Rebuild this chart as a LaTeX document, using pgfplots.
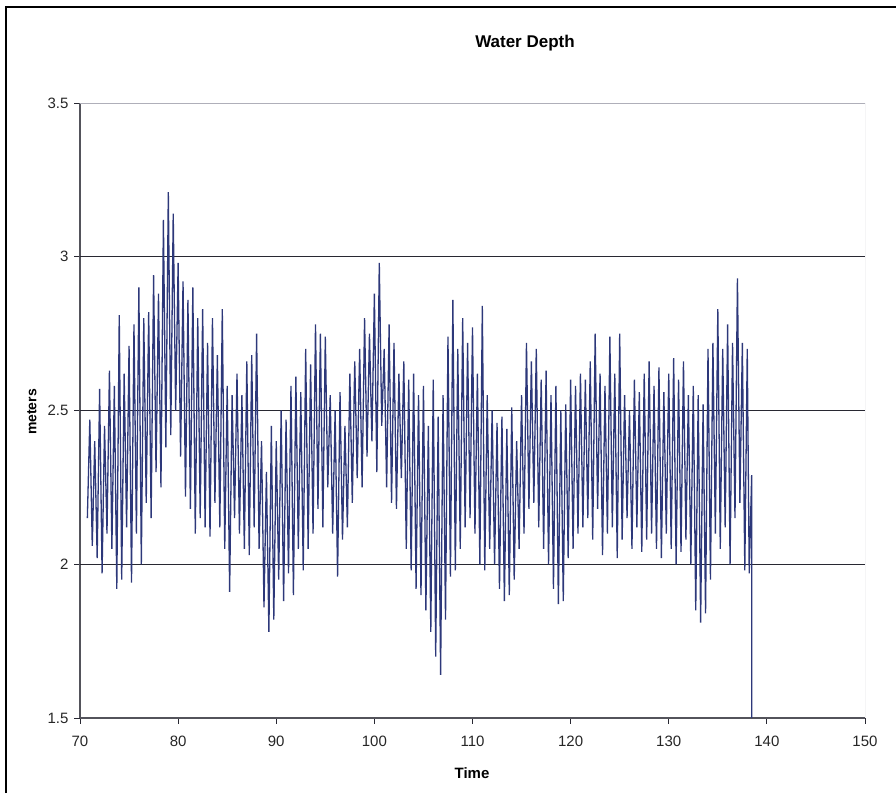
\documentclass[border=0pt]{standalone}
\usepackage{pgfplots}
\pgfplotsset{compat=1.18}
\usepackage{fontspec}
\setmainfont{Liberation Sans}
\definecolor{navy}{RGB}{45,56,122}
\definecolor{gridc}{RGB}{40,40,50}
\definecolor{boxc}{RGB}{175,175,185}
\begin{document}
\begin{tikzpicture}[x=1pt,y=1pt]
\path[use as bounding box] (0,0) rectangle (896,793);
\draw[black,line width=2.2pt] (6,0) -- (6,786) -- (896,786);
\begin{axis}[
  at={(80pt,75pt)}, anchor=south west,
  width=785pt, height=615pt, scale only axis,
  xmin=70, xmax=150, ymin=1.5, ymax=3.5,
  xtick={70,80,...,150}, ytick={1.5,2,2.5,3,3.5},
  yticklabels={1.5,2,2.5,3,3.5},
  extra y ticks={2,2.5,3}, extra y tick labels={},
  extra y tick style={grid=major, major tick length=0pt},
  axis x line*=bottom, axis y line*=left,
  axis line style={-, line width=1.2pt, color=gridc!80},
  tick align=outside, major tick length=6pt,
  tick style={line width=0.8pt, color=gridc},
  grid style={line width=1.3pt, color=gridc},
  /pgf/number format/assume math mode=true,
  ticklabel style={font=\fontsize{15}{17}\selectfont, color=black!85},
  xticklabel style={yshift=-8pt},
  yticklabel style={xshift=-2pt},
  clip=true,
]
\addplot[navy, line width=1.3pt, mark=none] table[x=t, y=d] {
t d
70.75 2.15
71.00 2.47
71.25 2.06
71.50 2.40
71.75 2.02
72.00 2.57
72.25 1.97
72.50 2.45
72.75 2.10
73.00 2.63
73.25 2.05
73.50 2.58
73.75 1.92
74.00 2.81
74.25 1.95
74.50 2.62
74.75 2.12
75.00 2.71
75.25 1.94
75.50 2.78
75.75 2.10
76.00 2.90
76.25 2.00
76.50 2.80
76.75 2.20
77.00 2.82
77.25 2.15
77.50 2.94
77.75 2.30
78.00 2.88
78.25 2.25
78.50 3.12
78.75 2.38
79.00 3.21
79.25 2.42
79.50 3.14
79.75 2.50
80.00 2.98
80.25 2.35
80.50 2.92
80.75 2.22
81.00 2.86
81.25 2.18
81.50 2.90
81.75 2.10
82.00 2.80
82.25 2.15
82.50 2.83
82.75 2.12
83.00 2.72
83.25 2.09
83.50 2.80
83.75 2.20
84.00 2.68
84.25 2.12
84.50 2.83
84.75 2.05
85.00 2.58
85.25 1.91
85.50 2.55
85.75 2.15
86.00 2.62
86.25 2.10
86.50 2.55
86.75 2.05
87.00 2.66
87.25 2.03
87.50 2.68
87.75 2.12
88.00 2.75
88.25 2.05
88.50 2.40
88.75 1.86
89.00 2.30
89.25 1.78
89.50 2.45
89.75 1.82
90.00 2.40
90.25 1.95
90.50 2.50
90.75 1.88
91.00 2.47
91.25 1.97
91.50 2.58
91.75 1.90
92.00 2.61
92.25 2.05
92.50 2.56
92.75 1.98
93.00 2.70
93.25 2.05
93.50 2.65
93.75 2.10
94.00 2.78
94.25 2.18
94.50 2.75
94.75 2.12
95.00 2.74
95.25 2.25
95.50 2.55
95.75 2.10
96.00 2.50
96.25 1.96
96.50 2.56
96.75 2.08
97.00 2.45
97.25 2.12
97.50 2.62
97.75 2.20
98.00 2.66
98.25 2.28
98.50 2.70
98.75 2.25
99.00 2.80
99.25 2.35
99.50 2.75
99.75 2.40
100.00 2.88
100.25 2.30
100.50 2.98
100.75 2.45
101.00 2.70
101.25 2.25
101.50 2.78
101.75 2.20
102.00 2.72
102.25 2.18
102.50 2.62
102.75 2.28
103.00 2.66
103.25 2.05
103.50 2.60
103.75 1.98
104.00 2.62
104.25 1.92
104.50 2.55
104.75 1.90
105.00 2.58
105.25 1.85
105.50 2.45
105.75 1.78
106.00 2.60
106.25 1.70
106.50 2.48
106.75 1.64
107.00 2.55
107.25 1.82
107.50 2.74
107.75 1.96
108.00 2.86
108.25 1.98
108.50 2.70
108.75 2.05
109.00 2.80
109.25 2.12
109.50 2.72
109.75 2.15
110.00 2.77
110.25 2.10
110.50 2.62
110.75 2.00
111.00 2.84
111.25 1.98
111.50 2.55
111.75 2.05
112.00 2.50
112.25 2.00
112.50 2.46
112.75 1.92
113.00 2.48
113.25 1.88
113.50 2.44
113.75 1.90
114.00 2.51
114.25 1.95
114.50 2.40
114.75 2.05
115.00 2.55
115.25 2.10
115.50 2.72
115.75 2.18
116.00 2.66
116.25 2.20
116.50 2.70
116.75 2.12
117.00 2.60
117.25 2.05
117.50 2.63
117.75 2.00
118.00 2.55
118.25 1.92
118.50 2.58
118.75 1.87
119.00 2.50
119.25 1.88
119.50 2.52
119.75 2.02
120.00 2.60
120.25 2.05
120.50 2.58
120.75 2.10
121.00 2.62
121.25 2.12
121.50 2.60
121.75 2.15
122.00 2.66
122.25 2.08
122.50 2.75
122.75 2.18
123.00 2.62
123.25 2.03
123.50 2.58
123.75 2.10
124.00 2.74
124.25 2.12
124.50 2.62
124.75 2.02
125.00 2.75
125.25 2.08
125.50 2.55
125.75 2.15
126.00 2.50
126.25 2.05
126.50 2.60
126.75 2.12
127.00 2.56
127.25 2.04
127.50 2.62
127.75 2.08
128.00 2.66
128.25 2.10
128.50 2.58
128.75 2.05
129.00 2.64
129.25 2.02
129.50 2.56
129.75 2.10
130.00 2.62
130.25 2.05
130.50 2.67
130.75 2.00
131.00 2.60
131.25 2.04
131.50 2.66
131.75 2.08
132.00 2.55
132.25 2.00
132.50 2.58
132.75 1.85
133.00 2.55
133.25 1.81
133.50 2.52
133.75 1.84
134.00 2.70
134.25 1.95
134.50 2.72
134.75 2.10
135.00 2.83
135.25 2.05
135.50 2.70
135.75 2.12
136.00 2.78
136.25 2.00
136.50 2.72
136.75 2.15
137.00 2.93
137.25 2.20
137.50 2.72
137.75 1.98
138.00 2.70
138.20 1.97
138.45 2.29
138.46 0.00
};
\draw[boxc, line width=0.8pt] (rel axis cs:0,1) -- (rel axis cs:1,1) -- (rel axis cs:1,0);
\end{axis}
\node[font=\fontsize{17}{20}\selectfont\bfseries] at (525,750) {Water Depth};
\node[font=\fontsize{15}{18}\selectfont\bfseries] at (472,20) {Time};
\node[font=\fontsize{14}{17}\selectfont\bfseries, rotate=90] at (32,381) {meters};
\end{tikzpicture}
\end{document}
